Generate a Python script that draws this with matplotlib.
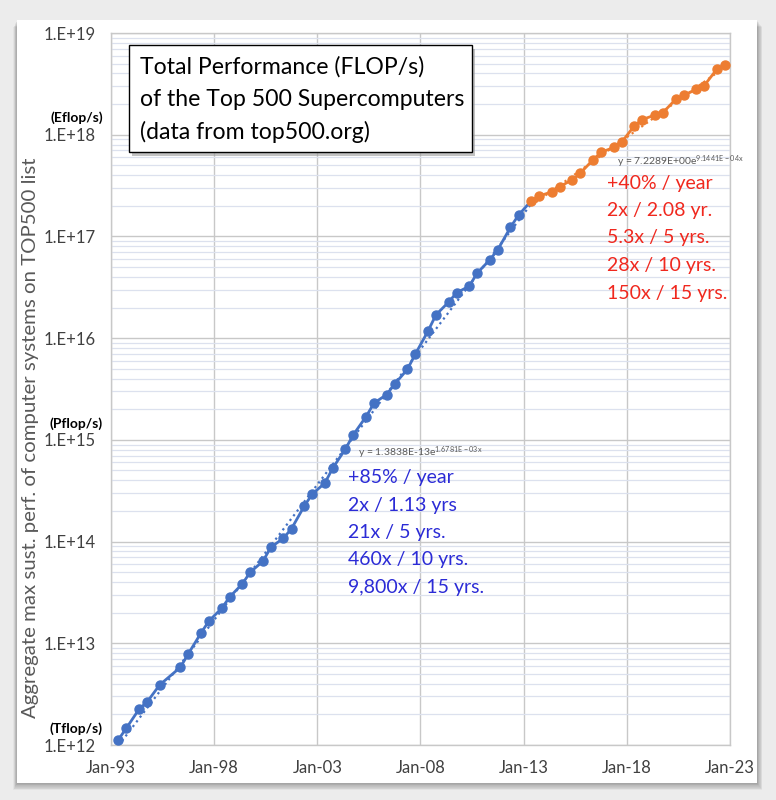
import numpy as np
import matplotlib
matplotlib.use("Agg")
import matplotlib.pyplot as plt
from matplotlib.patches import Rectangle
from matplotlib.ticker import FixedLocator, LogLocator, NullFormatter

plt.rcParams['font.family'] = ['Lato', 'DejaVu Sans']
plt.rcParams['mathtext.fontset'] = 'custom'
plt.rcParams['mathtext.rm'] = 'Lato'
plt.rcParams['mathtext.default'] = 'regular'

# TOP500 lists (position in decimal years) and summed Rmax in flop/s
blue_years = [1993.36, 1993.75, 1994.36, 1994.75, 1995.36,
              1996.36, 1996.75, 1997.36, 1997.75, 1998.36, 1998.75,
              1999.36, 1999.75, 2000.36, 2000.75, 2001.36, 2001.75,
              2002.36, 2002.75, 2003.36, 2003.75, 2004.36, 2004.75,
              2005.36, 2005.75, 2006.36, 2006.75, 2007.36, 2007.75,
              2008.36, 2008.75, 2009.36, 2009.75, 2010.36, 2010.75,
              2011.36, 2011.75, 2012.36, 2012.75]
blue_perf = [1.13e12, 1.47e12, 2.25e12, 2.65e12, 3.9e12,
             5.8e12, 7.9e12, 1.26e13, 1.66e13, 2.2e13, 2.85e13,
             3.83e13, 5.0e13, 6.4e13, 8.8e13, 1.08e14, 1.34e14,
             2.22e14, 2.93e14, 3.75e14, 5.28e14, 8.13e14, 1.127e15,
             1.69e15, 2.3e15, 2.79e15, 3.54e15, 4.92e15, 6.97e15,
             1.17e16, 1.695e16, 2.26e16, 2.795e16, 3.24e16, 4.37e16,
             5.89e16, 7.42e16, 1.23e17, 1.62e17]
orange_years = [2013.36, 2013.75, 2014.36, 2014.75, 2015.36, 2015.75,
                2016.36, 2016.75, 2017.36, 2017.75, 2018.36, 2018.75,
                2019.36, 2019.75, 2020.36, 2020.75, 2021.36, 2021.75,
                2022.36, 2022.75]
orange_perf = [2.23e17, 2.5e17, 2.74e17, 3.09e17, 3.61e17, 4.2e17,
               5.66e17, 6.72e17, 7.49e17, 8.45e17, 1.22e18, 1.41e18,
               1.56e18, 1.65e18, 2.22e18, 2.43e18, 2.79e18, 3.04e18,
               4.4e18, 4.86e18]

x_ticks = [1993, 1998, 2003, 2008, 2013, 2018, 2023]
x_tick_labels = ['Jan-93', 'Jan-98', 'Jan-03', 'Jan-08', 'Jan-13', 'Jan-18', 'Jan-23']
y_ticks = [1e12, 1e13, 1e14, 1e15, 1e16, 1e17, 1e18, 1e19]
y_tick_labels = ['1.E+12', '1.E+13', '1.E+14', '1.E+15', '1.E+16', '1.E+17', '1.E+18', '1.E+19']
unit_ticks = [1e12, 1e15, 1e18]
unit_labels = ['(Tflop/s)', '(Pflop/s)', '(Eflop/s)']

# Excel exponential trendlines, x = Excel date serial
blue_fit = (1.3838e-13, 1.6781e-03)
orange_fit = (7.2289e+00, 9.1441e-04)
blue_notes = ['+85% / year', '2x / 1.13 yrs', '21x / 5 yrs.', '460x / 10 yrs.', '9,800x / 15 yrs.']
red_notes = ['+40% / year', '2x / 2.08 yr.', '5.3x / 5 yrs.', '28x / 10 yrs.', '150x / 15 yrs.']
title_lines = ['Total Performance (FLOP/s)', 'of the Top 500 Supercomputers', '(data from top500.org)']

BLUE = '#4472C4'
ORANGE = '#ED7D31'

W, H = 776, 800
fig = plt.figure(figsize=(W / 100, H / 100), dpi=100, facecolor='#ececec')


def fx(px):
    return px / W


def fy(py):
    return 1 - py / H


# white card with soft shadow
for off in range(1, 10):
    fig.patches.append(Rectangle((fx(17 - off * 0.4), fy(783 + off * 0.8)), fx(740 + off), 763 / H,
                                 transform=fig.transFigure, facecolor='black',
                                 alpha=0.035, edgecolor='none', zorder=0))
fig.patches.append(Rectangle((fx(17), fy(783)), fx(740), 763 / H, transform=fig.transFigure,
                             facecolor='white', edgecolor='none', zorder=1))

ax = fig.add_axes([fx(111), fy(745), fx(730) - fx(111), fy(33) - fy(745)], zorder=2)
ax.set_yscale('log')


def serial(yr):
    return 33970 + (np.asarray(yr) - 1993) * 365.25


# trendlines
tb = np.linspace(blue_years[0], orange_years[0], 200)
ax.plot(tb, blue_fit[0] * np.exp(blue_fit[1] * serial(tb)), ':', color=BLUE, lw=1.6, zorder=3)
to = np.linspace(orange_years[0], orange_years[-1], 200)
ax.plot(to, orange_fit[0] * np.exp(orange_fit[1] * serial(to)), ':', color=ORANGE, lw=1.6, zorder=3)

# data series
ax.plot(blue_years + orange_years[:1], blue_perf + orange_perf[:1], '-', color=BLUE, lw=2, zorder=4)
ax.plot(blue_years, blue_perf, 'o', color=BLUE, ms=6.5, zorder=5)
ax.plot(orange_years, orange_perf, '-o', color=ORANGE, lw=2, ms=6.5, zorder=5)

ax.set_xlim(1993, 2023)
ax.set_ylim(1e12, 1e19)
ax.xaxis.set_major_locator(FixedLocator(x_ticks))
ax.set_xticklabels(x_tick_labels)
ax.yaxis.set_major_locator(FixedLocator(y_ticks))
ax.set_yticklabels(y_tick_labels)
ax.yaxis.set_minor_locator(LogLocator(base=10, subs=np.arange(2, 10), numticks=20))
ax.yaxis.set_minor_formatter(NullFormatter())
ax.grid(True, which='major', color='#c8c8c8', lw=1)
ax.grid(True, which='minor', axis='y', color='#dce1ee', lw=0.9)
ax.set_axisbelow(True)
for s in ax.spines.values():
    s.set_color('#c8c8c8')
    s.set_linewidth(1)
ax.tick_params(which='both', length=0, colors='#404040', labelsize=12)
ax.tick_params(axis='y', pad=11)
ax.tick_params(axis='x', pad=11)

for v, lab in zip(unit_ticks, unit_labels):
    ax.annotate(lab, xy=(-0.013, v), xycoords=('axes fraction', 'data'),
                xytext=(0, 12), textcoords='offset points', ha='right', va='center',
                fontsize=10, fontweight='bold', color='black', annotation_clip=False)

fig.text(fx(31), fy(438), 'Aggregate max sust. perf. of computer systems on TOP500 list',
         rotation=90, ha='center', va='center', fontsize=14.7, color='#595959')

# title box
fig.patches.append(Rectangle((fx(132), fy(156)), fx(343), 107 / H, transform=fig.transFigure,
                             facecolor='#9a9a9a', edgecolor='none', alpha=0.6, zorder=6))
fig.patches.append(Rectangle((fx(129), fy(152)), fx(343), 107 / H, transform=fig.transFigure,
                             facecolor='white', edgecolor='black', lw=1, zorder=7))
for i, line in enumerate(title_lines):
    fig.text(fx(140), fy(67 + i * 32.5), line, ha='left', va='center', fontsize=16.6,
             color='black', zorder=8)

# annotations
fig.text(fx(358), fy(453), r'y = 1.3838E-13e$^{1.6781E-03x}$', ha='left', va='center',
         fontsize=7.5, color='#595959', zorder=8)
for i, line in enumerate(blue_notes):
    fig.text(fx(348), fy(478 + i * 27.3), line, ha='left', va='center', fontsize=14,
             color='#2b2bd6', zorder=8)
fig.text(fx(617), fy(162), r'y = 7.2289E+00e$^{9.1441E-04x}$', ha='left', va='center',
         fontsize=7.5, color='#595959', zorder=8)
for i, line in enumerate(red_notes):
    fig.text(fx(607), fy(183 + i * 27.5), line, ha='left', va='center', fontsize=14,
             color='#f0281e', zorder=8)

fig.savefig('out.png', dpi=100, facecolor=fig.get_facecolor())
